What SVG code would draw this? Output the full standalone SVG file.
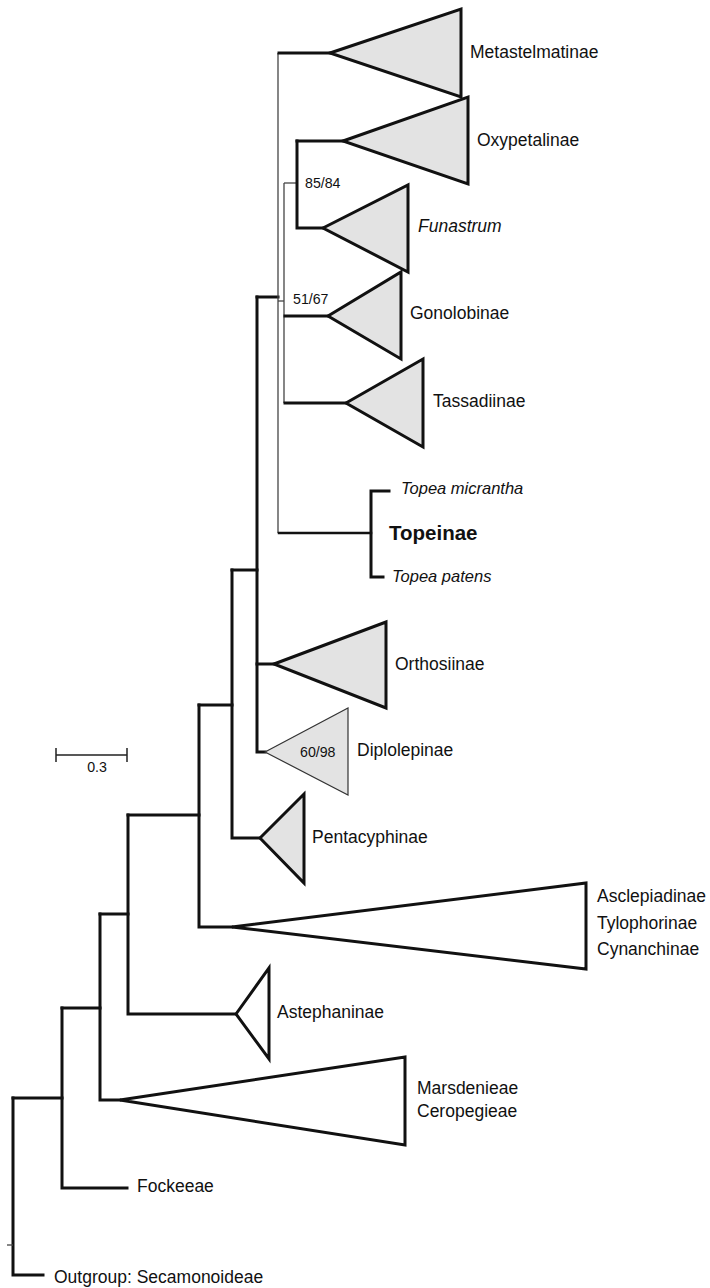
<svg xmlns="http://www.w3.org/2000/svg" width="710" height="1288" viewBox="0 0 710 1288">
<style>
.br{fill:none;stroke:#111;stroke-width:3;stroke-linecap:square}
.thin{fill:none;stroke:#444;stroke-width:1.3}
.tri{fill:#e3e3e3;stroke:#111;stroke-width:3;stroke-linejoin:miter}
.triw{fill:#fff;stroke:#111;stroke-width:3;stroke-linejoin:miter}
.trithin{fill:#e3e3e3;stroke:#333;stroke-width:1.2}
text{font-family:"Liberation Sans",Arial,sans-serif;fill:#111}
.lab{font-size:17.5px}
.it{font-size:16.5px;font-style:italic}
.bold{font-size:20.5px;font-weight:bold}
.sup{font-size:14.2px}
</style>
<rect width="710" height="1288" fill="#fff"/>
<g id="connectors">
<path class="br" d="M13,1098 V1275 H43"/>
<path class="br" d="M13,1098 H62"/>
<path class="thin" d="M7,1245 H13"/>
<path class="br" d="M62,1008 V1188 H127"/>
<path class="br" d="M62,1008 H100"/>
<path class="br" d="M100,914 V1100 H120"/>
<path class="br" d="M100,914 H128"/>
<path class="br" d="M128,815 V1014 H236"/>
<path class="br" d="M128,815 H199"/>
<path class="br" d="M199,705 V927 H232"/>
<path class="br" d="M199,705 H232"/>
<path class="br" d="M232,570 V838 H260"/>
<path class="br" d="M232,570 H257"/>
<path class="br" d="M257,297 V752 H265"/>
<path class="br" d="M257,664 H274"/>
<path class="br" d="M257,297 H278"/>
<path class="thin" d="M278,53 V533"/>
<path class="br" d="M279,53 H330"/>
<path class="br" style="stroke-width:2.5" d="M279,533 H371"/>
<path class="thin" d="M278,301 H284"/>
<path class="thin" d="M284,183 V403"/>
<path class="thin" d="M284,183 H297"/>
<path class="br" d="M285,316 H328"/>
<path class="br" d="M285,403 H346"/>
<path class="br" d="M297,141 V228 H323"/>
<path class="br" d="M297,141 H343"/>
<path class="br" d="M389,491 H371 V577 H383"/>
</g>
<g id="Metastelmatinae">
<polygon class="tri" points="330,53 461,9 461,97"/>
<text class="lab" x="470" y="58">Metastelmatinae</text>
</g>
<g id="Oxypetalinae">
<polygon class="tri" points="343,141 468,97 468,184"/>
<text class="lab" x="477" y="146">Oxypetalinae</text>
</g>
<g id="Funastrum">
<polygon class="tri" points="323,228 408,185 408,272"/>
<text class="lab" x="418" y="232" font-style="italic">Funastrum</text>
</g>
<g id="support-85-84">
<text class="sup" x="305" y="188">85/84</text>
</g>
<g id="support-51-67">
<text class="sup" x="293" y="304">51/67</text>
</g>
<g id="Gonolobinae">
<polygon class="tri" points="328,316 401,272 401,359"/>
<text class="lab" x="410" y="319">Gonolobinae</text>
</g>
<g id="Tassadiinae">
<polygon class="tri" points="346,403 423,359 423,447"/>
<text class="lab" x="433" y="407">Tassadiinae</text>
</g>
<g id="Topeinae">
<text class="it" x="401" y="494">Topea micrantha</text>
<text class="bold" x="389" y="540">Topeinae</text>
<text class="it" x="392" y="582">Topea patens</text>
</g>
<g id="Orthosiinae">
<polygon class="tri" points="274,664 386,622 386,708"/>
<text class="lab" x="395" y="670">Orthosiinae</text>
</g>
<g id="Diplolepinae">
<polygon class="trithin" points="265,752 348,708 348,795"/>
<text class="sup" x="300" y="757">60/98</text>
<text class="lab" x="357" y="756">Diplolepinae</text>
</g>
<g id="Pentacyphinae">
<polygon class="tri" points="260,838 304,794 304,883"/>
<text class="lab" x="312" y="843">Pentacyphinae</text>
</g>
<g id="Asclepiadinae">
<polygon class="triw" points="232,927 586,883 586,969"/>
<text class="lab" x="597" y="902">Asclepiadinae</text>
<text class="lab" x="597" y="929">Tylophorinae</text>
<text class="lab" x="597" y="955">Cynanchinae</text>
</g>
<g id="Astephaninae">
<polygon class="triw" points="236,1014 269,968 269,1059"/>
<text class="lab" x="277" y="1018">Astephaninae</text>
</g>
<g id="Marsdenieae">
<polygon class="triw" points="120,1100 405,1057 405,1145"/>
<text class="lab" x="417" y="1094">Marsdenieae</text>
<text class="lab" x="417" y="1117">Ceropegieae</text>
</g>
<g id="Fockeeae">
<text class="lab" x="137" y="1192">Fockeeae</text>
</g>
<g id="Outgroup">
<text class="lab" x="54" y="1283">Outgroup: Secamonoideae</text>
</g>
<g id="scale">
<path fill="none" stroke="#222" stroke-width="1.5" d="M56,755 H127 M56,748 V762 M127,748 V762"/>
<text class="sup" x="97" y="772" text-anchor="middle">0.3</text>
</g>
</svg>
